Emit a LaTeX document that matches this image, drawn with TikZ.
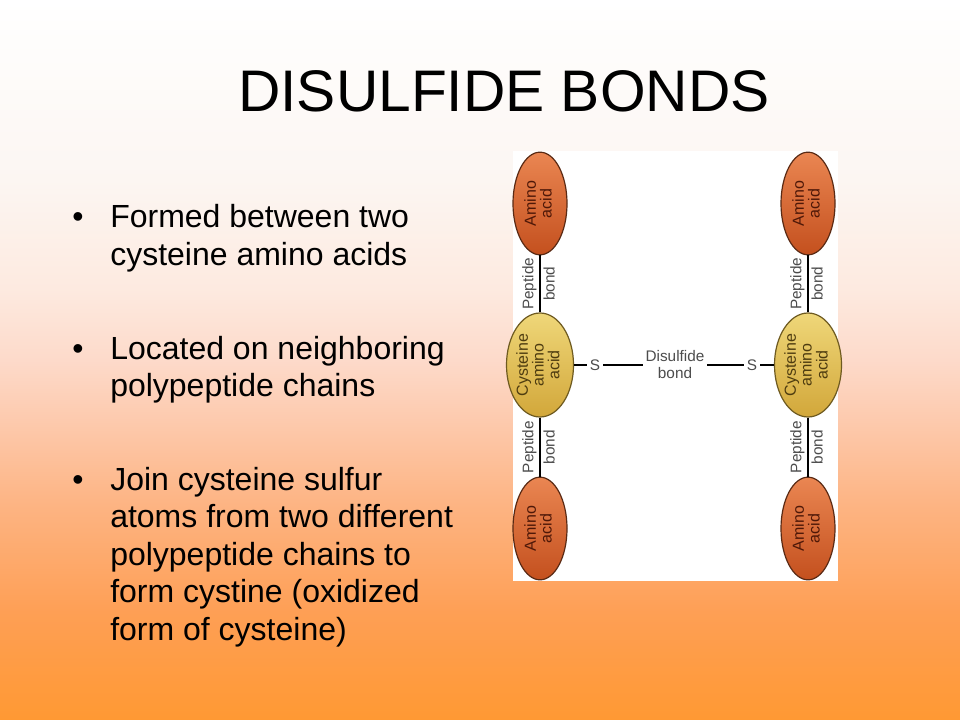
\documentclass[tikz,border=0pt]{standalone}
\usepackage{fontspec}
\setmainfont{Liberation Sans}
\usetikzlibrary{shapes.geometric}
\definecolor{bga}{HTML}{FF9933}
\definecolor{bgb}{HTML}{FE9F55}
\definecolor{bgc}{HTML}{FDB483}
\definecolor{bgd}{HTML}{FDC7A8}
\definecolor{bge}{HTML}{FDDACA}
\definecolor{bgf}{HTML}{FDEAE0}
\definecolor{bgg}{HTML}{FCF6F2}
\definecolor{aminotop}{HTML}{EA8652}
\definecolor{aminobot}{HTML}{C4501E}
\definecolor{aminoline}{HTML}{5A2A14}
\definecolor{aminotext}{HTML}{4E1808}
\definecolor{cystop}{HTML}{EFD779}
\definecolor{cysbot}{HTML}{D2A73A}
\definecolor{cysline}{HTML}{6E5A20}
\definecolor{cystext}{HTML}{4E3C10}
\pgfdeclareverticalshading{slidebg}{100bp}{color(0bp)=(bga); color(25bp)=(bga); color(32.5bp)=(bgb); color(40bp)=(bgc); color(45bp)=(bgd); color(50bp)=(bge); color(55bp)=(bgf); color(62.5bp)=(bgg); color(75bp)=(white); color(100bp)=(white)}
\newcommand{\vtext}[1]{\rotatebox{90}{\begin{tabular}{@{}c@{}}#1\end{tabular}}}

\begin{document}
\begin{tikzpicture}[x=0.75pt,y=-0.75pt,
  amino/.style={ellipse, draw=aminoline, line width=0.9pt, top color=aminotop, bottom color=aminobot, minimum width=40.5pt, minimum height=77pt, inner sep=0pt, text=aminotext, font=\fontsize{12}{10.5}\selectfont},
  cys/.style={ellipse, draw=cysline, line width=0.9pt, top color=cystop, bottom color=cysbot, minimum width=40.5pt, minimum height=78pt, inner sep=0pt, text=cystext, font=\fontsize{12}{10.5}\selectfont},
  lbl/.style={text=black!70, font=\fontsize{11.5}{12.75}\selectfont, inner sep=2pt},
  bond/.style={line width=1.2pt},
  txt/.style={anchor=base west, inner sep=0pt, font=\fontsize{24}{28}\selectfont}]
\useasboundingbox (0,0) rectangle (960,720);
\shade[shading=slidebg] (0,0) rectangle (960,720);
\node[anchor=base, inner sep=0pt, font=\fontsize{44}{53}\selectfont] (title) at (504,112) {DISULFIDE BONDS};

\foreach \y/\t [count=\i] in {228/Formed between two, 265.5/cysteine amino acids, 359/Located on neighboring, 396.5/polypeptide chains, 490/Join cysteine sulfur, 527.5/atoms from two different, 565/polypeptide chains to, 602.5/form cystine (oxidized, 640/form of cysteine)} \node[txt] (line\i) at (110,\y) {\t};
\foreach \y/\n in {228/1,359/2,490/3} \node[txt, anchor=base] (dot\n) at (78,\y) {•};

\fill[white] (513,151) rectangle (838,581);
\node[amino] (a1) at (540,203.5) {\vtext{Amino\\acid}};
\node[cys] (c1) at (540,365) {\vtext{Cysteine\\amino\\acid}};
\node[amino] (a2) at (540,528.5) {\vtext{Amino\\acid}};
\node[amino] (a3) at (808,203.5) {\vtext{Amino\\acid}};
\node[cys] (c2) at (808,365) {\vtext{Cysteine\\amino\\acid}};
\node[amino] (a4) at (808,528.5) {\vtext{Amino\\acid}};

\foreach \u/\v in {a1/c1,c1/a2,a3/c2,c2/a4} \draw[bond] (\u) -- node[lbl, rotate=90, anchor=south] {Peptide} node[lbl, rotate=90, anchor=north] {bond} (\v);

\node[lbl] (s1) at (595,365) {S};
\node[lbl, align=center] (db) at (675,365) {Disulfide\\bond};
\node[lbl] (s2) at (752,365) {S};
\draw[bond] (c1) -- (s1) -- (db) -- (s2) -- (c2);
\end{tikzpicture}
\end{document}
